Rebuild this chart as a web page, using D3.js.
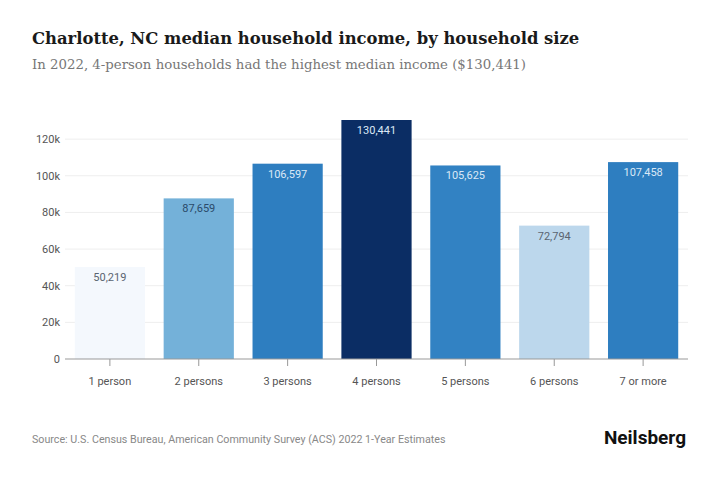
<!DOCTYPE html>
<html><head><meta charset="utf-8">
<script src="https://cdn.jsdelivr.net/npm/d3@7"></script>
<style>body{margin:0;background:#fff;font-family:Roboto,"Open Sans",sans-serif}</style>
</head><body>
<svg id="chart" width="720" height="480"></svg>
<script>
const categories = ["1 person", "2 persons", "3 persons", "4 persons", "5 persons", "6 persons", "7 or more"];
const incomes = [50219, 87659, 106597, 130441, 105625, 72794, 107458];
const barColors = ["#f4f8fd", "#74b1d9", "#2e7ec0", "#0b2d64", "#3282c3", "#bcd7ec", "#2e7ec0"];
const labelColors = ["#5a6470", "#2b4a6a", "#dbe9f6", "#dbe9f6", "#dbe9f6", "#5a6470", "#dbe9f6"];
const yTicks = [0, 20000, 40000, 60000, 80000, 100000, 120000];

const svg = d3.select("#chart");
const margin = {top: 120, right: 32, bottom: 121, left: 65};
const W = 720, H = 480;

svg.append("text").attr("x", 32).attr("y", 44)
  .style("font-family", "'DejaVu Serif',serif").style("font-weight", "bold")
  .style("font-size", "16.4px").attr("fill", "#1a1a1a")
  .text("Charlotte, NC median household income, by household size");
svg.append("text").attr("x", 32).attr("y", 69)
  .style("font-family", "'DejaVu Serif',serif").style("font-size", "13.3px").attr("fill", "#777")
  .text("In 2022, 4-person households had the highest median income ($130,441)");

const x = d3.scaleBand().domain(categories).range([margin.left, W - margin.right]).paddingInner(0.21).paddingOuter(0.11);
const y = d3.scaleLinear().domain([0, 130441]).range([H - margin.bottom, 120]);

const g = svg.append("g");
g.selectAll("line.grid").data(yTicks.slice(1)).enter().append("line")
  .attr("x1", margin.left).attr("x2", W - margin.right)
  .attr("y1", d => y(d)).attr("y2", d => y(d))
  .attr("stroke", "#eee").attr("stroke-width", 1);

g.selectAll("text.yt").data(yTicks).enter().append("text")
  .attr("x", margin.left - 5).attr("y", d => y(d)).attr("dy", "0.35em")
  .attr("text-anchor", "end").style("font-size", "11px").attr("fill", "#555")
  .text(d => d === 0 ? "0" : d / 1000 + "k");

g.selectAll("rect").data(incomes).enter().append("rect")
  .attr("x", (d, i) => x(categories[i])).attr("width", x.bandwidth())
  .attr("y", d => y(d)).attr("height", d => y(0) - y(d))
  .attr("fill", (d, i) => barColors[i]);

g.selectAll("text.val").data(incomes).enter().append("text")
  .attr("x", (d, i) => x(categories[i]) + x.bandwidth() / 2)
  .attr("y", d => y(d) + 14).attr("text-anchor", "middle")
  .style("font-size", "11px").attr("fill", (d, i) => labelColors[i])
  .text(d => d3.format(",")(d));

const xAxis = g.append("g").attr("transform", `translate(0,${y(0)})`);
xAxis.append("line").attr("x1", margin.left).attr("x2", W - margin.right).attr("stroke", "#999");
categories.forEach(c => {
  const cx = x(c) + x.bandwidth() / 2;
  xAxis.append("line").attr("x1", cx).attr("x2", cx).attr("y1", 0).attr("y2", 7).attr("stroke", "#999");
  xAxis.append("text").attr("x", cx).attr("y", 26).attr("text-anchor", "middle")
    .style("font-size", "11px").attr("fill", "#555").text(c);
});

svg.append("text").attr("x", 32).attr("y", 443).style("font-size", "10.7px").attr("fill", "#888")
  .text("Source: U.S. Census Bureau, American Community Survey (ACS) 2022 1-Year Estimates");
svg.append("text").attr("x", 686).attr("y", 444).attr("text-anchor", "end")
  .style("font-size", "19px").style("font-weight", "bold").attr("fill", "#111").text("Neilsberg");
</script>
</body></html>
